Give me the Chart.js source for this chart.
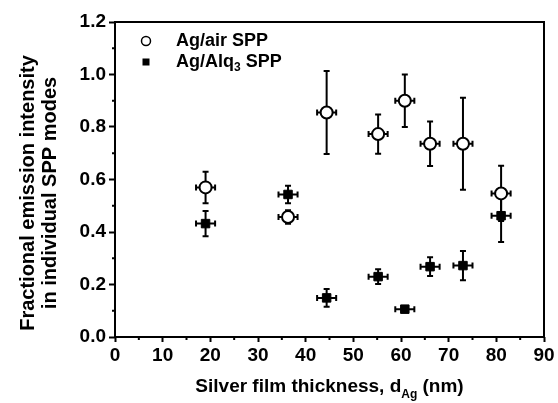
<!DOCTYPE html>
<html lang="en">
<head>
    <meta charset="UTF-8">
    <title>SPP emission vs silver thickness</title>
    <script src="https://cdn.jsdelivr.net/npm/chart.js"></script>
    <style>
        body { margin: 0; background: #fff; }
        .chart-box { width: 558px; height: 403px; }
    </style>
</head>
<body>
    <div class="chart-box">
        <canvas id="sppChart"></canvas>
    </div>

    <script>
        // silver film thickness (nm), same for both series
        const thickness = [19, 36.3, 44.4, 55.2, 60.8, 66.1, 73, 81];
        const thicknessErr = [2, 2, 2, 2, 2, 2, 2, 2];

        // Ag/air SPP
        const airValues = [0.57, 0.457, 0.855, 0.773, 0.90, 0.736, 0.736, 0.547];
        const airErr = [0.06, 0.026, 0.158, 0.075, 0.10, 0.085, 0.175, 0.105];

        // Ag/Alq3 SPP
        const alqValues = [0.432, 0.543, 0.149, 0.230, 0.106, 0.268, 0.272, 0.462];
        const alqErr = [0.048, 0.033, 0.034, 0.028, 0, 0.036, 0.056, 0.10];

        const xTicks = [0, 10, 20, 30, 40, 50, 60, 70, 80, 90];
        const yTicks = [0.0, 0.2, 0.4, 0.6, 0.8, 1.0, 1.2];

        const FONT = "'Liberation Sans', Arial, sans-serif";

        function points(xs, ys, xe, ye) {
            return xs.map((x, i) => ({ x: x, y: ys[i], xe: xe[i], ye: ye[i] }));
        }

        // error bars, minor ticks, frame, legend and titles
        const extras = {
            id: 'extras',
            beforeDatasetsDraw(chart) {
                const ctx = chart.ctx;
                const xs = chart.scales.x, ys = chart.scales.y;
                ctx.save();
                ctx.strokeStyle = '#000';
                ctx.lineWidth = 2;
                chart.data.datasets.forEach(ds => {
                    ds.data.forEach(p => {
                        const px = xs.getPixelForValue(p.x);
                        const py = ys.getPixelForValue(p.y);
                        const x1 = xs.getPixelForValue(p.x - p.xe);
                        const x2 = xs.getPixelForValue(p.x + p.xe);
                        ctx.beginPath();
                        ctx.moveTo(x1, py); ctx.lineTo(x2, py);
                        ctx.moveTo(x1, py - 3); ctx.lineTo(x1, py + 3);
                        ctx.moveTo(x2, py - 3); ctx.lineTo(x2, py + 3);
                        if (p.ye > 0) {
                            const y1 = ys.getPixelForValue(p.y + p.ye);
                            const y2 = ys.getPixelForValue(p.y - p.ye);
                            ctx.moveTo(px, y1); ctx.lineTo(px, y2);
                            ctx.moveTo(px - 3, y1); ctx.lineTo(px + 3, y1);
                            ctx.moveTo(px - 3, y2); ctx.lineTo(px + 3, y2);
                        }
                        ctx.stroke();
                    });
                });
                ctx.restore();
            },
            afterDraw(chart) {
                const ctx = chart.ctx;
                const a = chart.chartArea;
                const xs = chart.scales.x, ys = chart.scales.y;
                ctx.save();
                ctx.strokeStyle = '#000';
                ctx.lineWidth = 2;
                ctx.strokeRect(a.left, a.top, a.right - a.left, a.bottom - a.top);

                // minor ticks
                ctx.beginPath();
                for (let v = 5; v < 90; v += 10) {
                    const px = xs.getPixelForValue(v);
                    ctx.moveTo(px, a.bottom); ctx.lineTo(px, a.bottom + 3);
                }
                for (let v = 0.1; v < 1.2; v += 0.2) {
                    const py = ys.getPixelForValue(v);
                    ctx.moveTo(a.left, py); ctx.lineTo(a.left - 3, py);
                }
                ctx.stroke();

                ctx.fillStyle = '#000';
                ctx.textBaseline = 'middle';

                // legend
                ctx.lineWidth = 1.5;
                ctx.beginPath();
                ctx.arc(146, 41, 4.5, 0, Math.PI * 2);
                ctx.fillStyle = '#fff';
                ctx.fill();
                ctx.stroke();
                ctx.fillStyle = '#000';
                ctx.fillRect(142.5, 58.5, 7, 7);
                ctx.font = 'bold 18px ' + FONT;
                ctx.textAlign = 'left';
                ctx.fillText('Ag/air SPP', 176, 41);
                let tx = 176;
                ctx.fillText('Ag/Alq', tx, 62);
                tx += ctx.measureText('Ag/Alq').width;
                ctx.font = 'bold 12px ' + FONT;
                ctx.fillText('3', tx, 68);
                tx += ctx.measureText('3').width;
                ctx.font = 'bold 18px ' + FONT;
                ctx.fillText(' SPP', tx, 62);

                // x title with subscript
                const main = 'Silver film thickness, d';
                const sub = 'Ag';
                const tail = ' (nm)';
                ctx.font = 'bold 19px ' + FONT;
                const w1 = ctx.measureText(main).width;
                const w3 = ctx.measureText(tail).width;
                ctx.font = 'bold 12px ' + FONT;
                const w2 = ctx.measureText(sub).width;
                let sx = (a.left + a.right) / 2 - (w1 + w2 + w3) / 2;
                ctx.font = 'bold 19px ' + FONT;
                ctx.fillText(main, sx, 387);
                sx += w1;
                ctx.font = 'bold 12px ' + FONT;
                ctx.fillText(sub, sx, 395);
                sx += w2;
                ctx.font = 'bold 19px ' + FONT;
                ctx.fillText(tail, sx, 387);

                // y title, two lines
                ctx.font = 'bold 20px ' + FONT;
                ctx.translate(0, 193);
                ctx.rotate(-Math.PI / 2);
                ctx.textAlign = 'center';
                ctx.fillText('Fractional emission intensity', 0, 28);
                ctx.fillText('in individual SPP modes', 0, 50);
                ctx.restore();
            }
        };

        const ctx = document.getElementById('sppChart').getContext('2d');
        const sppChart = new Chart(ctx, {
            type: 'scatter',
            data: {
                datasets: [
                    {
                        label: 'Ag/air SPP',
                        data: points(thickness, airValues, thicknessErr, airErr),
                        pointStyle: 'circle',
                        pointRadius: 6,
                        pointBackgroundColor: '#fff',
                        pointBorderColor: '#000',
                        pointBorderWidth: 2,
                        showLine: false
                    },
                    {
                        label: 'Ag/Alq3 SPP',
                        data: points(thickness, alqValues, thicknessErr, alqErr),
                        pointStyle: 'rect',
                        pointRadius: 6,
                        pointBackgroundColor: '#000',
                        pointBorderColor: '#000',
                        pointBorderWidth: 1,
                        showLine: false
                    }
                ]
            },
            options: {
                responsive: true,
                maintainAspectRatio: false,
                animation: false,
                events: [],
                layout: { padding: { top: 22, right: 14, left: 0, bottom: 0 } },
                plugins: {
                    legend: { display: false },
                    tooltip: { enabled: false }
                },
                scales: {
                    x: {
                        type: 'linear',
                        min: 0, max: 90,
                        afterBuildTicks: s => { s.ticks = xTicks.map(v => ({ value: v })); },
                        afterFit: s => { s.height = 66; },
                        ticks: {
                            color: '#000',
                            padding: 2,
                            maxRotation: 0,
                            font: { family: FONT, size: 19, weight: 'bold' }
                        },
                        grid: { drawOnChartArea: false, drawTicks: true, tickLength: 5, tickColor: '#000', tickWidth: 2 },
                        border: { display: false }
                    },
                    y: {
                        type: 'linear',
                        min: 0, max: 1.2,
                        afterBuildTicks: s => { s.ticks = yTicks.map(v => ({ value: v })); },
                        afterFit: s => { s.width = 115; },
                        ticks: {
                            color: '#000',
                            padding: 3,
                            callback: v => v.toFixed(1),
                            font: { family: FONT, size: 19, weight: 'bold' }
                        },
                        grid: { drawOnChartArea: false, drawTicks: true, tickLength: 6, tickColor: '#000', tickWidth: 2 },
                        border: { display: false }
                    }
                }
            },
            plugins: [extras]
        });
    </script>
</body>
</html>
